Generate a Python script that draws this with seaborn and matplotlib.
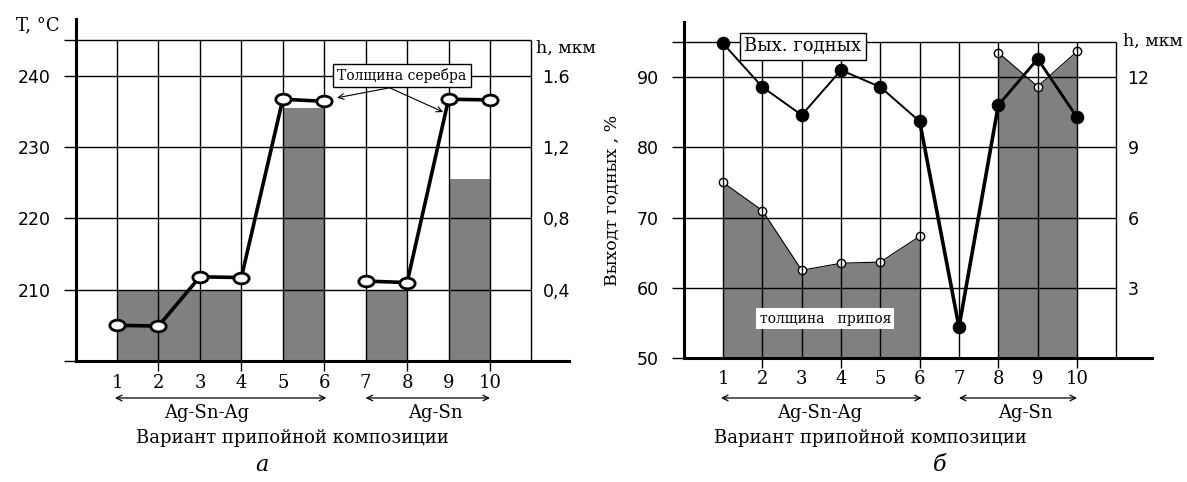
#!/usr/bin/env python3
# coding: utf-8
# Two panels: soldering temperature / silver thickness (a), yield / solder thickness (б)
import numpy as np
import pandas as pd
import matplotlib
matplotlib.use('Agg')
import matplotlib.pyplot as plt
import seaborn as sns
from matplotlib.path import Path

# **--- data, panel a
variants = [1, 2, 3, 4, 5, 6, 7, 8, 9, 10]
temp_c = [205.0, 204.9, 211.8, 211.7, 236.7, 236.4, 211.2, 211.0, 236.7, 236.6]
# silver thickness, drawn as spans between variants
ag_start = [1, 5, 7, 9]
ag_end = [4, 6, 8, 10]
ag_h = [0.40, 1.42, 0.40, 1.02]

# **--- data, panel б
yield_pct = [94.8, 88.6, 84.6, 91.0, 88.6, 83.7, 54.4, 86.0, 92.6, 84.3]
solder_var_1 = [1, 2, 3, 4, 5, 6]
solder_h_1 = [7.5, 6.3, 3.75, 4.05, 4.1, 5.2]
solder_var_2 = [8, 9, 10]
solder_h_2 = [13.05, 11.6, 13.1]

x_labels = ['1', '2', '3', '4', '5', '6', '7', '8', '9', '10']
t_ticks = [200, 210, 220, 230, 240, 245]
t_labels = ['', '210', '220', '230', '240', '']
ha_ticks = [0.4, 0.8, 1.2, 1.6]
ha_labels = ['0,4', '0,8', '1,2', '1.6']
y_ticks = [50, 60, 70, 80, 90, 95]
y_labels = ['50', '60', '70', '80', '90', '']
hb_ticks = [3, 6, 9, 12]
hb_labels = ['3', '6', '9', '12']

sns.set_style('white')
plt.rcParams['font.family'] = ['DejaVu Serif']
plt.rcParams['text.color'] = 'black'
plt.rcParams['xtick.color'] = 'black'
plt.rcParams['ytick.color'] = 'black'

W, H = 1187, 482
fig = plt.figure(figsize=(W / 100, H / 100), dpi=100)
GRAY = '#808080'
GRID_LW = 1.0


def fy(y):
    return 1 - y / H


def frame(ax, ax2, ylo, yhi, ytop, yt, ytl, h_hi, ht, htl):
    ax.set_xlim(0, 11.9)
    ax.set_ylim(ylo, ytop)
    ax2.set_ylim(0, h_hi)
    # grid drawn by hand so it stops at variant 11
    ax.hlines(yt[1:], 0, 11, color='black', lw=GRID_LW, zorder=1)
    ax.vlines(range(1, 12), ylo, yhi, color='black', lw=GRID_LW, zorder=1)
    for s in ['top', 'right']:
        ax.spines[s].set_visible(False)
    for s in ['left', 'bottom']:
        ax.spines[s].set_linewidth(2.2)
        ax.spines[s].set_color('black')
    ax.set_yticks(yt)
    ax.set_yticklabels(ytl)
    ax.tick_params(axis='y', direction='out', length=9, width=GRID_LW, pad=9,
                   labelsize=12.5, labelfontfamily='DejaVu Sans', left=True)
    ax.set_xticks(variants)
    ax.set_xticklabels(x_labels)
    ax.tick_params(axis='x', which='major', length=0, pad=9, labelsize=13)
    ax.xaxis.remove_overlapping_locs = False
    ax.set_xticks([2, 4, 6, 8, 10], minor=True)
    ax.tick_params(axis='x', which='minor', direction='out', length=7, width=GRID_LW, bottom=True)
    ax.set_xlabel('')
    ax.set_ylabel('')
    # right axis labels sit next to the line at variant 11
    for s in ax2.spines.values():
        s.set_visible(False)
    ax2.spines['right'].set_position(('data', 11))
    ax2.set_yticks(ht)
    ax2.set_yticklabels(htl)
    ax2.tick_params(axis='y', length=0, pad=8, labelsize=12.5, labelfontfamily='DejaVu Sans')
    ax2.set_ylabel('')
    ax.set_zorder(ax2.get_zorder() + 1)
    ax.patch.set_visible(False)


# ______________________________ panel a ______________________________
axA = fig.add_axes([75.6 / W, fy(361), (568.7 - 75.6) / W, (361 - 18.6) / H])
axA2 = axA.twinx()

axA2.bar(ag_start, ag_h, width=np.subtract(ag_end, ag_start), align='edge',
         color=GRAY, lw=0, zorder=0)

dfA = pd.DataFrame({'variant': variants, 'T': temp_c})
circ = Path.unit_circle()
ellipse = Path(circ.vertices * [1, 0.7], circ.codes)
for part in [dfA.iloc[:6], dfA.iloc[6:]]:
    sns.lineplot(data=part, x='variant', y='T', ax=axA, color='black', lw=2.6,
                 marker=ellipse, markersize=11, markerfacecolor='white',
                 markeredgecolor='black', markeredgewidth=2, estimator=None,
                 sort=False, zorder=4)

frame(axA, axA2, 200, 245, 248, t_ticks, t_labels, 48 / 25, ha_ticks, ha_labels)

axA.text(7.88, 240.0, 'Толщина серебра', ha='center', va='center', fontsize=10,
         bbox=dict(boxstyle='square,pad=0.3', fc='white', ec='black', lw=1), zorder=5)
for end in [(6.31, 236.9), (8.87, 234.9)]:
    axA.annotate('', xy=end, xytext=(7.58, 238.3),
                 arrowprops=dict(arrowstyle='->', lw=0.8, color='black',
                                 shrinkA=0, shrinkB=0), zorder=5)

fig.text(38 / W, fy(25), 'T, °C', ha='center', va='center', fontsize=13)
fig.text(536 / W, fy(48), 'h, мкм', ha='left', va='center', fontsize=12.5)

# ______________________________ panel б ______________________________
axB = fig.add_axes([683.7 / W, fy(358), (1151.7 - 683.7) / W, (358 - 21.7) / H])
axB2 = axB.twinx()

axB2.fill_between(solder_var_1, solder_h_1, color=GRAY, lw=0, zorder=0)
axB2.fill_between(solder_var_2, solder_h_2, color=GRAY, lw=0, zorder=0)
for xs, hs in [(solder_var_1, solder_h_1), (solder_var_2, solder_h_2)]:
    sns.lineplot(x=xs, y=hs, ax=axB2, color='black', lw=0.8, marker='o',
                 markersize=6, markerfacecolor='white', markeredgecolor='black',
                 markeredgewidth=1, estimator=None, sort=False, zorder=2)

dfB = pd.DataFrame({'variant': variants, 'yield': yield_pct})
sns.lineplot(data=dfB, x='variant', y='yield', ax=axB, color='black', lw=1.4,
             marker='o', markersize=9, markerfacecolor='black', markeredgecolor='black',
             estimator=None, sort=False, zorder=4)
sns.lineplot(data=dfB.iloc[5:8], x='variant', y='yield', ax=axB, color='black',
             lw=2.6, estimator=None, sort=False, zorder=4)
sns.lineplot(data=dfB.iloc[7:], x='variant', y='yield', ax=axB, color='black',
             lw=2.0, estimator=None, sort=False, zorder=4)

frame(axB, axB2, 50, 95, 97.9, y_ticks, y_labels, 47.9 * 0.3, hb_ticks, hb_labels)

axB.text(3.03, 94.4, 'Вых. годных', ha='center', va='center', fontsize=13,
         bbox=dict(boxstyle='square,pad=0.25', fc='white', ec='black', lw=1), zorder=5)
axB.text(3.6, 55.6, 'толщина   припоя', ha='center', va='center', fontsize=10,
         bbox=dict(boxstyle='square,pad=0.25', fc='white', ec='none'), zorder=5)

fig.text(612 / W, fy(200), 'Выходт годных , %', ha='center', va='center',
         rotation=90, fontsize=12.5)
fig.text(1123 / W, fy(41), 'h, мкм', ha='left', va='center', fontsize=12.5)

# ______________________________ group arrows and captions ______________________________
for ax in [axA, axB]:
    for a, b in [(0.95, 6.05), (7.0, 10.0)]:
        ax.annotate('', xy=(b, fy(398)), xytext=(a, fy(398)),
                    xycoords=('data', 'figure fraction'),
                    textcoords=('data', 'figure fraction'),
                    arrowprops=dict(arrowstyle='<->', lw=0.9, color='black',
                                    shrinkA=0, shrinkB=0))

fig.text(207 / W, fy(413), 'Ag-Sn-Ag', ha='center', va='center', fontsize=13)
fig.text(435 / W, fy(413), 'Ag-Sn', ha='center', va='center', fontsize=13)
fig.text(292 / W, fy(438), 'Вариант припойной композиции', ha='center', va='center', fontsize=13)
fig.text(262 / W, fy(465), 'а', ha='center', va='center', fontsize=16, style='italic')

fig.text(820 / W, fy(413), 'Ag-Sn-Ag', ha='center', va='center', fontsize=13)
fig.text(1025 / W, fy(413), 'Ag-Sn', ha='center', va='center', fontsize=13)
fig.text(870 / W, fy(438), 'Вариант припойной композиции', ha='center', va='center', fontsize=13)
fig.text(940 / W, fy(465), 'б', ha='center', va='center', fontsize=16, style='italic')

fig.savefig('out.png', dpi=100)
